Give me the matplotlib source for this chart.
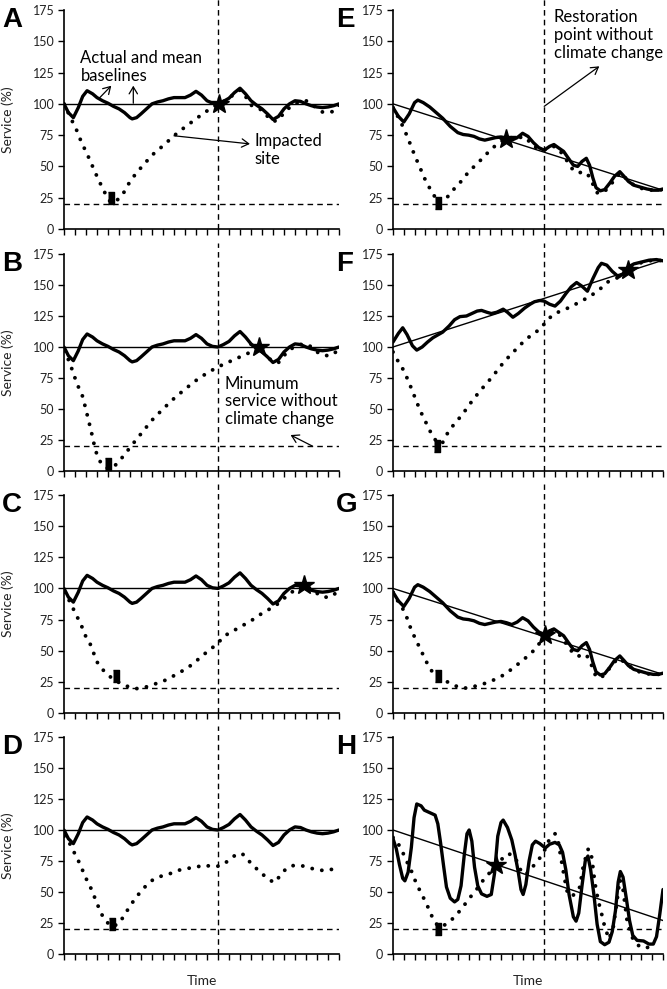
import matplotlib
matplotlib.use('Agg')
import matplotlib.pyplot as plt

plt.rcParams['font.family'] = ['Lato', 'DejaVu Sans']

# ---- data (x = time steps 0..25, y = service %) ----
x_ticks = list(range(0, 26))
y_ticks = [0, 25, 50, 75, 100, 125, 150, 175]
restoration_x = 14
min_service = 20

# actual baseline, stable climate (panels A-D)
stable_x = [0, 0.4, 0.85, 1.3, 1.7, 2.1, 2.6, 3, 3.5, 4, 4.5, 5, 5.5, 6, 6.2, 6.6, 7, 7.5, 8,
            8.5, 9, 9.5, 10, 10.5, 11, 11.5, 12, 12.5, 13, 13.5, 14, 14.5, 15, 15.5, 16, 16.5,
            17, 17.5, 18, 18.5, 19, 19.5, 20, 20.5, 21, 21.5, 22, 22.5, 23, 23.5, 24, 24.5, 25]
stable_y = [100, 93, 89, 97, 106, 110.5, 108, 105, 102.5, 100.5, 98, 96, 93, 89, 88, 89, 92,
            96, 100, 101.5, 102.5, 104, 105, 105, 105, 107, 110, 107, 102.5, 100.5, 100, 102,
            104.5, 109, 112.5, 108, 102.5, 99, 96, 92, 87.5, 90, 96, 100, 102.5, 102, 100, 98.5,
            97.5, 97, 97.5, 98.5, 100]

# actual baseline, declining (panels E and G)
decl_x = [0, 0.5, 1, 1.5, 2, 2.3, 2.8, 3.4, 4, 4.6, 5.3, 6, 6.5, 7, 7.5, 8, 8.5, 9, 9.5, 10,
          10.5, 11, 11.5, 12, 12.5, 13, 13.5, 14, 14.5, 14.9, 15.3, 15.8, 16.2, 16.7, 17.1, 17.5,
          17.9, 18.2, 18.5, 18.8, 19.2, 19.6, 20.1, 20.5, 21, 21.4, 21.8, 22.3, 22.9, 23.5, 24.1,
          24.6, 25]
decl_y = [97, 90, 85.5, 92, 101, 103, 101, 97.5, 93, 88.5, 82, 77, 75.5, 75, 74, 72, 71, 72, 73,
          73.5, 72.5, 71, 73, 76.5, 74, 69, 65, 63, 66, 67.5, 65, 62, 57, 51, 50, 54, 56.5, 51,
          41, 33, 30.5, 31.5, 37, 42, 45.8, 42, 38, 35, 33.5, 32, 31, 31, 32]

# actual baseline, rising (panel F)
rise_x = [0, 0.5, 0.9, 1.3, 1.8, 2.2, 2.7, 3.2, 3.7, 4.2, 4.6, 5.2, 5.7, 6.2, 6.8, 7.3, 7.8, 8.2,
          8.7, 9.1, 9.6, 10.2, 10.6, 11.1, 11.6, 12.2, 12.7, 13.1, 13.6, 14, 14.5, 15, 15.5, 16,
          16.5, 17, 17.5, 18, 18.5, 19, 19.3, 19.8, 20.3, 20.9, 21.3, 21.7, 22.3, 23, 23.7, 24.4, 25]
rise_y = [104, 111, 115.5, 110, 101, 97.5, 100, 104, 107.5, 110, 112, 117, 122, 124.5, 125, 127,
          129, 129.5, 128, 127, 128, 130.5, 128, 124, 127, 131.5, 134.5, 136.5, 137.5, 137, 134.5,
          133, 137, 143, 148.5, 152, 149, 145, 155, 164, 167.5, 166, 161, 156.5, 159, 164, 167,
          168.5, 170, 170.5, 169.5]

# actual baseline, variable (panel H)
var_x = [0, 0.3, 0.6, 0.9, 1.1, 1.4, 1.7, 1.95, 2.2, 2.6, 2.9, 3.4, 3.9, 4.15, 4.4, 4.7, 4.95, 5.3,
         5.7, 6.0, 6.3, 6.6, 6.85, 7.05, 7.3, 7.55, 7.85, 8.2, 8.7, 9.1, 9.4, 9.7, 10.0, 10.2, 10.6,
         11.0, 11.3, 11.6, 11.85, 12.05, 12.3, 12.6, 12.9, 13.2, 13.6, 14.1, 14.5, 15.0, 15.4, 15.7,
         16.0, 16.3, 16.7, 16.95, 17.2, 17.5, 17.8, 18.05, 18.3, 18.6, 18.9, 19.2, 19.6, 20.0, 20.3,
         20.6, 20.85, 21.05, 21.3, 21.6, 21.9, 22.2, 22.6, 23.2, 23.7, 24.1, 24.4, 24.7, 25]
var_y = [93, 85, 72, 61, 59, 66, 86, 110, 121, 119.5, 116, 114, 112, 105, 90, 70, 54, 45, 42, 44,
         55, 80, 97, 100, 91, 70, 55, 48.5, 46.5, 48, 65, 95, 106, 108, 102, 92, 80, 66, 52, 48,
         56, 75, 88, 91, 89, 85.5, 88.5, 90, 88, 82, 68, 48, 30, 26.5, 33, 55, 75, 79, 68, 48, 24,
         10, 7.5, 9.5, 18, 35, 58, 66.5, 62, 45, 27, 15, 11, 10.5, 8, 8, 14, 32, 52]

# mean baselines (trend lines): value at x=0 and x=25
trend_stable = [100, 100]
trend_decl = [100, 31]
trend_rise = [100, 170]
trend_var = [100, 27]

# impacted site, per panel
a_imp_x = [0, 0.7, 1.1, 1.6, 2.1, 2.6, 3.1, 3.6, 4.0, 4.3, 4.7, 5.3, 6.0, 6.6, 7.2, 8.0, 9.0, 10,
           11, 12, 12.6, 13.2, 14, 14.5, 15, 15.5, 16, 16.5, 17, 17.5, 18, 18.5, 19, 19.5, 20, 20.5,
           21, 21.5, 22, 22.5, 23, 23.5, 24, 24.5, 25]
a_imp_y = [100, 87, 80, 69, 60, 50, 40, 31, 24, 21, 22, 27, 38, 45, 51, 59, 66.5, 74.5, 81.5, 88,
           92, 95.5, 100, 102, 104.5, 108, 111, 106, 99, 97, 95, 90, 86, 87, 93, 97, 100, 102,
           102.5, 100, 96, 93.5, 93, 94, 99]

b_imp_x = [0, 0.5, 0.8, 1.2, 1.7, 2.2, 2.5, 2.8, 3.1, 3.5, 4.0, 4.5, 5, 5.5, 6, 7, 8, 9, 10, 11,
           12, 13, 14, 15, 16, 17, 17.7, 18, 18.5, 19, 19.5, 20, 20.5, 21, 21.5, 22, 22.5, 23,
           23.5, 24, 24.5, 25]
b_imp_y = [97, 88, 80, 70, 60, 42, 31, 19, 10, 5, 2, 3, 8, 13, 19, 30, 41, 50, 58.5, 66, 73, 79,
           84, 88, 92, 96, 100, 97, 92, 88, 87.5, 93, 98, 100, 102, 102.5, 100, 96, 93.5, 93, 94, 99]

c_imp_x = [0, 0.6, 1, 1.5, 2, 2.4, 2.7, 3, 3.5, 4, 4.5, 5, 5.5, 6, 6.5, 7, 7.5, 8, 8.5, 9, 9.5,
           10, 10.5, 11, 11.5, 12, 12.5, 13, 13.5, 14, 14.5, 15, 15.5, 16, 16.5, 17, 17.5, 18,
           18.5, 19, 19.5, 20, 20.5, 21, 21.8, 22.3, 22.8, 23.3, 23.8, 24.3, 25]
c_imp_y = [97, 88.5, 80.5, 72, 61, 55, 48, 41, 35, 30.5, 27, 24.5, 22.5, 20.5, 19.5, 20, 21, 22.5,
           24, 25.5, 27.5, 30, 32.5, 35, 38, 41.5, 45.5, 49, 52.5, 56, 61.5, 64, 66.5, 69, 71.5, 74,
           77, 80, 82.5, 85, 88, 92, 95.5, 99, 102.7, 100.5, 97.5, 94, 93, 93.3, 98.5]

d_imp_x = [0, 0.6, 1, 1.4, 2, 2.4, 2.7, 3, 3.3, 3.75, 4.35, 5, 5.6, 6.1, 6.5, 6.9, 7.5, 8.1, 8.9,
           9.7, 10.4, 11.2, 12, 12.7, 13.5, 14.2, 15, 15.6, 16.2, 16.7, 17.3, 17.9, 18.5, 19.1,
           19.7, 20.2, 20.9, 21.7, 22.5, 23.4, 24.1, 25]
d_imp_y = [95, 88, 80.5, 73.5, 61, 54, 47.5, 41, 34, 27, 22, 24.5, 33, 40, 45, 49.5, 55.5, 60, 63,
           65, 67.5, 69, 70, 71.7, 70.5, 71, 75.5, 80, 81, 76, 70.5, 65.5, 61, 57.5, 63.5, 69,
           71.5, 71, 69, 67.5, 67.5, 70.5]

e_imp_x = [0, 0.5, 1, 1.5, 2, 2.5, 3, 3.5, 4, 4.2, 4.6, 5.2, 5.7, 6.3, 6.8, 7.4, 8, 8.6, 9.4, 10,
           10.5, 11, 11.5, 12, 12.5, 13, 13.6, 14, 14.5, 15, 15.5, 16, 16.5, 16.9, 17.3, 17.6, 18.2,
           18.55, 18.9, 19.5, 20, 20.6, 21, 21.5, 22, 22.5, 23, 23.5, 24, 24.5, 25]
e_imp_y = [97, 89, 80.5, 70, 59, 49, 39, 31, 24, 21, 22, 27, 32.5, 38, 43.5, 49, 54, 59.5, 66, 70,
           72, 73, 72, 74, 71, 66, 64, 63, 65.5, 66, 62, 56, 49, 45.5, 45, 46, 42, 35, 29, 29, 34,
           40, 44.5, 41, 37, 34, 32.5, 31.5, 31, 31, 31.5]

f_imp_x = [0, 0.5, 1, 1.5, 2, 2.5, 3, 3.5, 4, 4.2, 4.6, 5.2, 5.8, 6.5, 7.2, 8, 8.6, 9.2, 10, 10.6,
           11.1, 11.7, 12.3, 12.8, 13.3, 13.8, 14.1, 14.5, 15, 15.8, 16.5, 17.3, 18.2, 19.2, 19.9,
           20.7, 21.2, 21.6, 22.3, 23, 23.7, 24.4, 25]
f_imp_y = [96, 88, 81, 71, 60, 49, 40, 31, 24, 22, 23, 33, 39, 46.5, 55, 64, 70, 76, 85, 91, 95.5,
           101, 106, 109.5, 112.5, 116, 120, 123.5, 127, 130, 132.5, 136.5, 140.5, 147, 152.5,
           155.5, 158, 163, 166.5, 168, 169.5, 170, 169.5]

g_imp_x = [0, 0.5, 1.1, 1.7, 2.3, 3.1, 3.5, 4.2, 4.8, 5.5, 6.3, 7.1, 7.8, 8.6, 9.4, 10.2, 10.8,
           11.4, 12.2, 12.8, 13.4, 14.1, 14.5, 15, 15.5, 16, 16.5, 17.1, 17.5, 17.9, 18.4, 18.8,
           19.3, 19.8, 20.4, 20.9, 21.4, 22, 22.5, 23, 23.5, 24, 24.5, 25]
g_imp_y = [97, 89, 81, 66.5, 55.5, 41, 34.5, 29, 26, 23, 19.8, 20.3, 22, 24, 26.8, 30.3, 34, 38,
           43.7, 48, 54, 62.5, 66, 66.5, 62, 56, 50, 45.5, 46.5, 47, 38, 29, 28.5, 33, 40, 44, 41,
           37, 34, 32.5, 31.5, 31, 31, 31.5]

h_imp_x = [0, 0.3, 0.6, 0.9, 1.2, 1.7, 2.2, 2.5, 3.1, 3.7, 4.2, 4.7, 5.25, 5.8, 6.36, 6.9, 7.4,
           8.0, 8.35, 9.1, 9.5, 10.0, 10.7, 11.3, 11.9, 12.3, 12.8, 13.3, 13.9, 14.4, 15.0, 15.3,
           15.6, 15.9, 16.2, 16.7, 17.3, 17.6, 18.0, 18.1, 18.4, 18.7, 19.0, 19.3, 19.6, 20.0,
           20.4, 20.7, 21.0, 21.3, 21.7, 22.2, 22.7, 23.3, 23.8, 24.2]
h_imp_y = [94, 92, 87, 82, 76, 67, 56, 51, 40.5, 28.5, 22, 23, 26, 31, 36.5, 43, 48.5, 55, 59.5,
           67, 71.5, 76, 81, 78, 66, 64, 69, 74, 81, 91, 97, 90.5, 75, 60, 47.5, 47.5, 54, 70, 83,
           85, 78, 57, 43, 33, 22, 12, 22, 40, 60, 52, 25, 12.5, 7, 4.5, 6, 8]

# minimum service time (bar marker) and recovery time (star marker) per panel
min_marks = {'A': (4.3, 25), 'B': (4.0, 6), 'C': (4.75, 30), 'D': (4.35, 24),
             'E': (4.15, 21), 'F': (4.1, 20), 'G': (4.15, 29.5), 'H': (4.2, 20)}
recovery_marks = {'A': (14.1, 100), 'B': (17.7, 100), 'C': (21.8, 102.7),
                  'E': (10.5, 72), 'F': (21.8, 162.5), 'G': (14.1, 62.5), 'H': (9.5, 71.5)}

panels = {
    'A': (stable_x, stable_y, trend_stable, a_imp_x, a_imp_y),
    'B': (stable_x, stable_y, trend_stable, b_imp_x, b_imp_y),
    'C': (stable_x, stable_y, trend_stable, c_imp_x, c_imp_y),
    'D': (stable_x, stable_y, trend_stable, d_imp_x, d_imp_y),
    'E': (decl_x, decl_y, trend_decl, e_imp_x, e_imp_y),
    'F': (rise_x, rise_y, trend_rise, f_imp_x, f_imp_y),
    'G': (decl_x, decl_y, trend_decl, g_imp_x, g_imp_y),
    'H': (var_x, var_y, trend_var, h_imp_x, h_imp_y),
}

# ---- layout (pixels of a 667x989 figure) ----
W, H = 667, 989
rows = [(10, 229), (254, 471), (495, 713), (737, 954)]
cols = [(64, 275), (393, 270)]
order = [['A', 'B', 'C', 'D'], ['E', 'F', 'G', 'H']]

fig = plt.figure(figsize=(W / 100, H / 100), dpi=100)
bar_marker = [(-0.3, -0.55), (0.3, -0.55), (0.3, 0.55), (-0.3, 0.55)]
axes = {}

for ci, (left, width) in enumerate(cols):
    for ri, (top, bottom) in enumerate(rows):
        key = order[ci][ri]
        ax = fig.add_axes([left / W, 1 - bottom / H, width / W, (bottom - top) / H])
        axes[key] = ax
        bx, by, trend, ix, iy = panels[key]

        ax.plot([0, 25], [min_service, min_service], color='black', lw=1.0,
                dashes=(4, 3), zorder=1)
        ax.plot([restoration_x, restoration_x], [0, 184], color='black', lw=1.0,
                dashes=(4, 3), clip_on=False, zorder=1)
        ax.plot([0, 25], trend, color='black', lw=1.0, zorder=2)
        ax.plot(bx, by, color='black', lw=2.4, solid_joinstyle='round',
                solid_capstyle='round', zorder=3)
        ax.plot(ix, iy, color='black', lw=2.8, linestyle=(0, (0.01, 2.5)),
                dash_capstyle='round', zorder=4)

        mx, my = min_marks[key]
        ax.plot([mx], [my], marker=bar_marker, ms=9, color='black', ls='none', zorder=5)
        if key in recovery_marks:
            sx, sy = recovery_marks[key]
            ax.plot([sx], [sy], marker='*', ms=15, color='black', ls='none', zorder=6)

        ax.set_xlim(0, 25)
        ax.set_ylim(0, 175)
        ax.set_xticks(x_ticks)
        ax.set_xticklabels([])
        ax.set_yticks(y_ticks)
        ax.tick_params(axis='both', direction='out', length=4, width=1.0, color='black',
                       labelsize=9, labelcolor='#222222', pad=3)
        for s in ['top', 'right']:
            ax.spines[s].set_visible(False)
        for s in ['left', 'bottom']:
            ax.spines[s].set_linewidth(1.2)

        letter_x = 2 if ci == 0 else 336
        fig.text(letter_x / W, 1 - (top - 3) / H, key, fontsize=20, fontweight='bold',
                 family='Liberation Sans', ha='left', va='top')
        if ci == 0:
            fig.text(8 / W, 1 - (top + bottom) / 2 / H, 'Service (%)', rotation=90,
                     fontsize=10, color='#222222', ha='center', va='center')
        if ri == 3:
            fig.text((left + width / 2) / W, 1 - 981 / H, 'Time', fontsize=10,
                     color='#222222', ha='center', va='center')

arrow = dict(arrowstyle='->,head_length=0.5,head_width=0.3', color='black', lw=0.9,
             shrinkA=0, shrinkB=0)

ax = axes['A']
ax.text(1.5, 143, 'Actual and mean\nbaselines', fontsize=12, ha='left', va='top',
        linespacing=1.15)
ax.annotate('', xy=(4.3, 114.5), xytext=(3.2, 104.5), arrowprops=arrow)
ax.annotate('', xy=(6.3, 114.5), xytext=(6.3, 100.5), arrowprops=arrow)
ax.text(17.3, 76.5, 'Impacted\nsite', fontsize=12, ha='left', va='top', linespacing=1.15)
ax.annotate('', xy=(16.9, 68), xytext=(10, 74.5), arrowprops=arrow)

ax = axes['B']
ax.text(14.6, 77, 'Minumum\nservice without\nclimate change', fontsize=12, ha='left',
        va='top', linespacing=1.15)
ax.annotate('', xy=(20.6, 29), xytext=(22.6, 20), arrowprops=arrow)

ax = axes['E']
ax.text(14.9, 175.5, 'Restoration\npoint without\nclimate change', fontsize=12, ha='left',
        va='top', linespacing=1.15)
ax.annotate('', xy=(19.1, 130), xytext=(14, 98), arrowprops=arrow)

fig.savefig('out.png', dpi=100)
